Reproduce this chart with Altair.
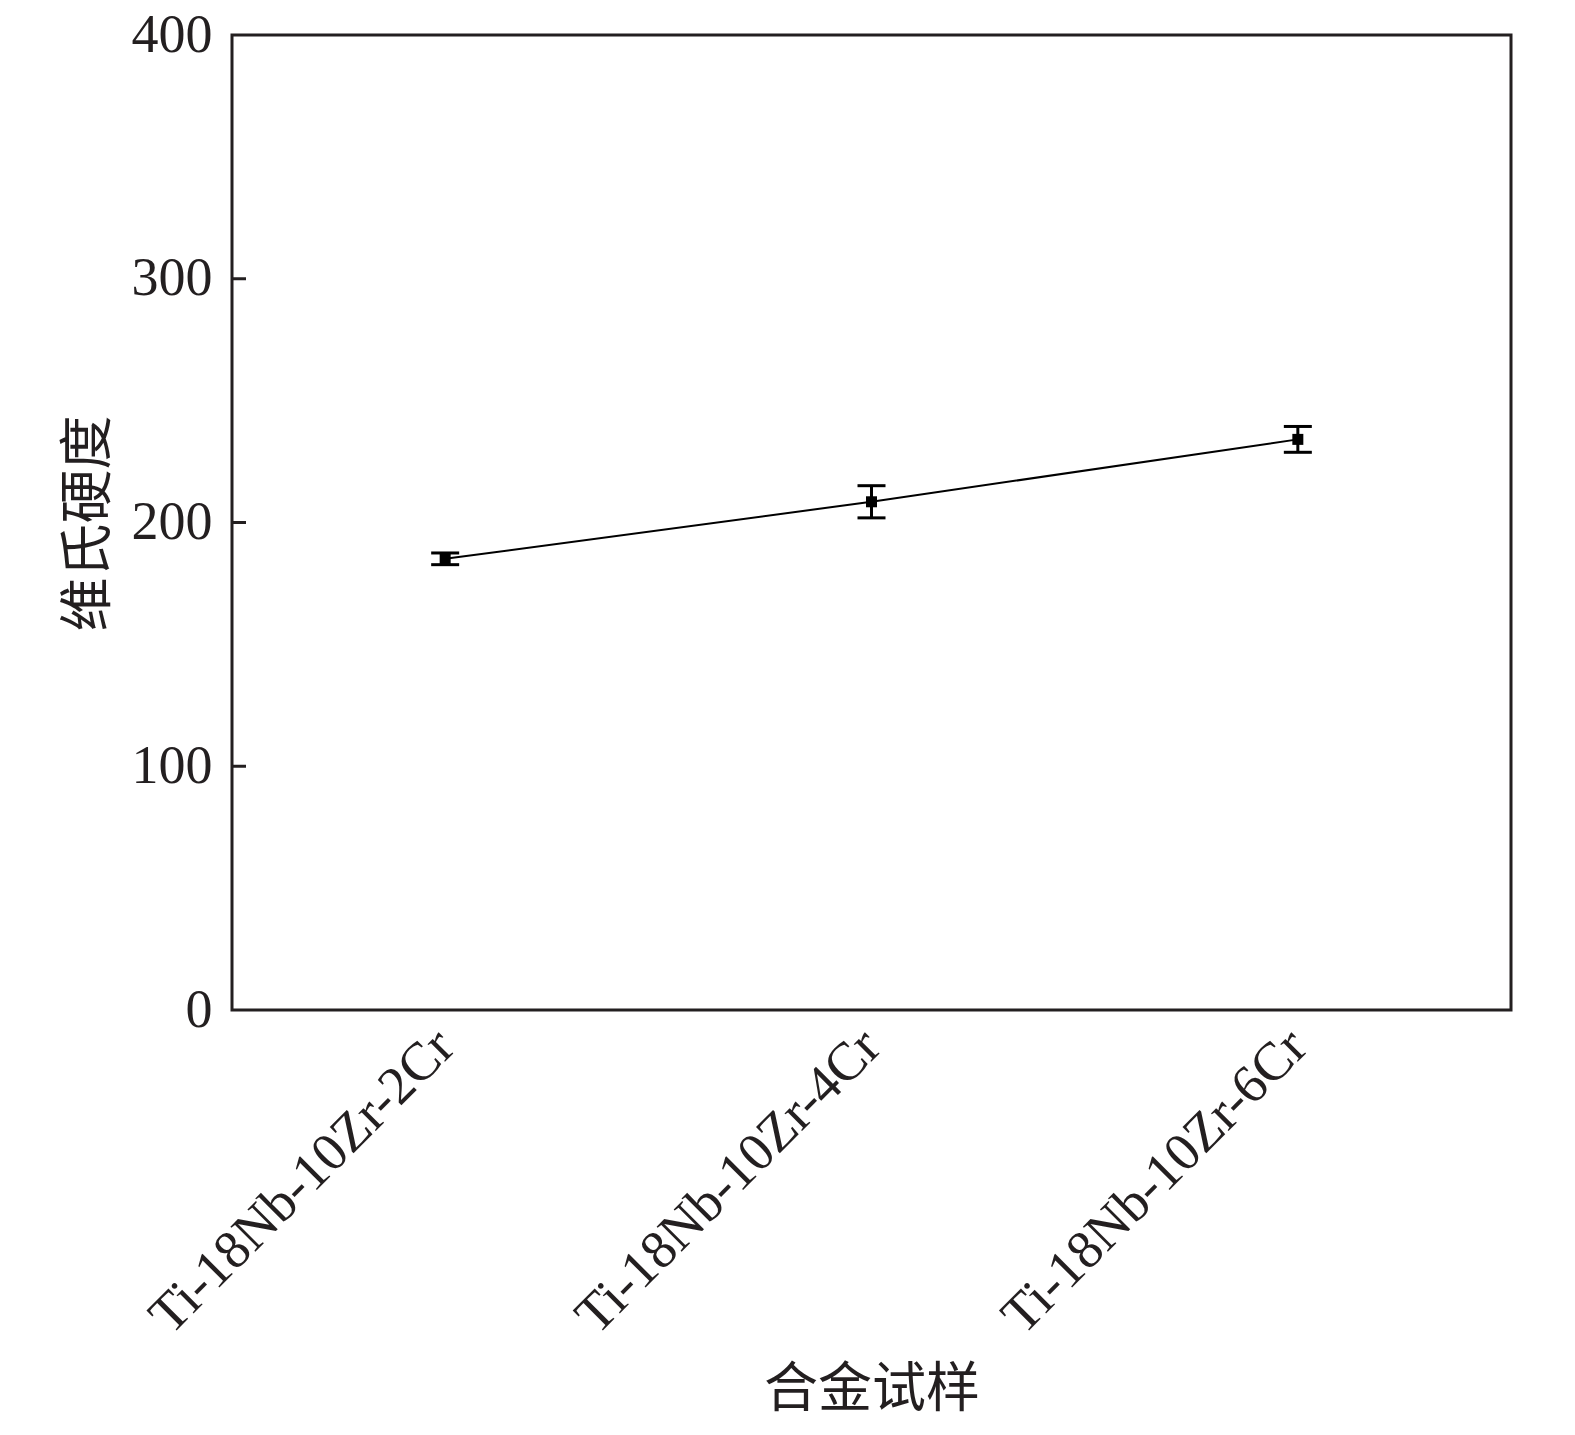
import altair as alt
import pandas as pd

categories = ["Ti-18Nb-10Zr-2Cr", "Ti-18Nb-10Zr-4Cr", "Ti-18Nb-10Zr-6Cr"]
hardness = [185.1, 208.5, 234.1]
errors = [2.4, 6.6, 5.3]
y_ticks = [0, 100, 200, 300, 400]
inner_ticks = [100, 200, 300]

df = pd.DataFrame({
    "alloy": categories,
    "hv": hardness,
    "lo": [h - e for h, e in zip(hardness, errors)],
    "hi": [h + e for h, e in zip(hardness, errors)],
})
tick_df = pd.DataFrame({"t": inner_ticks})

INK = "#231f20"
SERIF = "Liberation Serif"
CJK = "Noto Sans CJK SC"

x_scale = alt.Scale(type="point", padding=0.5)
x_enc = alt.X(
    "alloy:N", sort=categories, scale=x_scale,
    axis=alt.Axis(
        title="合金试样", titleFont=CJK, titleFontSize=54, titleFontWeight="normal",
        titleColor=INK, titleY=380, titleBaseline="middle",
        labelFont=SERIF, labelFontSize=54, labelColor=INK, labelAngle=-45,
        labelAlign="right", labelBaseline="middle", labelPadding=28, labelLimit=0,
        ticks=False, domain=False, grid=False,
    ),
)
x_plain = alt.X("alloy:N", sort=categories, scale=x_scale)
y_scale = alt.Scale(domain=[0, 400], nice=False)
y_axis = alt.Axis(
    title="维氏硬度", titleFont=CJK, titleFontSize=54, titleFontWeight="normal",
    titleColor=INK, titleX=-143, titleY=488, titleAngle=-90,
    titleBaseline="middle", titleAlign="center",
    labelFont=SERIF, labelFontSize=54, labelColor=INK, labelPadding=20,
    values=y_ticks, ticks=False, domain=False, grid=False,
)

base = alt.Chart(df)
line = base.mark_line(color="black", strokeWidth=2).encode(
    x=x_enc, y=alt.Y("hv:Q", scale=y_scale, axis=y_axis)
)
bars = base.mark_rule(color="black", strokeWidth=3).encode(
    x=x_plain, y="lo:Q", y2="hi:Q"
)
cap_lo = base.mark_tick(color="black", thickness=3, size=28, orient="horizontal", opacity=1).encode(
    x=x_plain, y="lo:Q"
)
cap_hi = base.mark_tick(color="black", thickness=3, size=28, orient="horizontal", opacity=1).encode(
    x=x_plain, y="hi:Q"
)
pts = base.mark_square(color="black", size=121, opacity=1).encode(
    x=x_plain, y="hv:Q"
)
inticks = alt.Chart(tick_df).mark_rule(color=INK, strokeWidth=3).encode(
    y="t:Q", x=alt.value(0), x2=alt.value(14)
)

chart = alt.layer(line, bars, cap_lo, cap_hi, pts, inticks).properties(
    width=1279, height=975,
    autosize=alt.AutoSizeParams(type="none"),
    padding={"left": 224, "top": 27, "right": 50, "bottom": 420},
    background="white",
).configure_view(
    stroke=INK, strokeWidth=3
)

chart.save("out.html", embed_options={"renderer": "svg", "actions": False})
